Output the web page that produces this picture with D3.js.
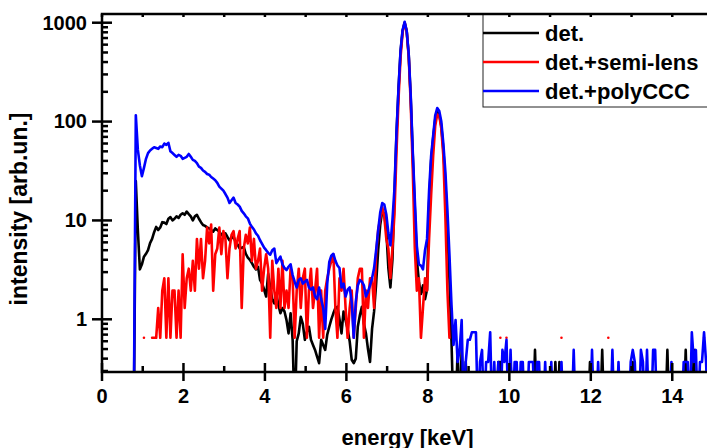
<!DOCTYPE html>
<html>

<head>
	<title>energy spectra</title>
	<meta charset="utf-8">
	<script src="https://cdn.jsdelivr.net/npm/d3@7"></script>
	<style>
		body {
			margin: 0;
			background: #fff;
		}

		text {
			font-family: "Liberation Sans", Arial, sans-serif;
			font-weight: bold;
			fill: #000;
		}

		.tick-label {
			font-size: 20px;
		}

		.x-title {
			font-size: 22px;
		}

		.y-title {
			font-size: 23px;
		}

		.legend text {
			font-size: 22px;
		}

		.spec {
			fill: none;
			stroke-width: 2.6px;
			stroke-linejoin: round;
			stroke-linecap: round;
		}

		.tick-mark {
			stroke: #000;
			stroke-width: 2.5px;
		}
	</style>
</head>

<body>

	<svg width="707" height="448"></svg>

	<script>
		// channel calibration of the spectra (keV)
		var channelStart = 0.78
		var channelWidth = 0.05

		var seriesNames = ["det.", "det.+semi-lens", "det.+polyCCC"]
		var seriesColors = ["#000000", "#ff0000", "#0000ff"]

		var xMajor = [0, 2, 4, 6, 8, 10, 12, 14]
		var xMinor = [1, 3, 5, 7, 9, 11, 13, 15]
		var yMajor = [1, 10, 100, 1000]

		// det.
		var det = [
			0, 25, 8, 3.2, 3.6, 4.3, 4.6, 5.0, 5.9, 6.5,
			7.6, 8.6, 8.0, 8.5, 9.6, 9.5, 9.2, 10.4, 10.8, 10.0,
			10.4, 11.0, 10.6, 11.4, 11.8, 11.4, 12.3, 11.6, 11.0, 10.0,
			11.0, 11.4, 10.4, 9.6, 9.0, 8.8, 8.5, 8.3, 8.0, 7.7,
			8.3, 8.0, 7.7, 7.2, 6.9, 7.4, 6.8, 6.3, 6.6, 6.9,
			6.0, 5.7, 5.2, 5.3, 5.4, 4.6, 4.2, 4.0, 3.7, 3.4,
			3.2, 3.4, 2.5, 2.3, 2.0, 1.7, 2.9, 2.1, 1.6, 1.45,
			1.8, 1.4, 1.15, 1.3, 1.2, 0.98, 0.72, 1.15, 0.62, 0,
			0.6, 0.72, 1.06, 0.9, 0.62, 0.75, 0.84, 0.62, 0.55, 0.49,
			0.42, 0.36, 0.62, 0.55, 0.49, 0.7, 0.84, 1.0, 1.15, 1.3,
			1.34, 1.0, 0.72, 1.2, 0.98, 0.8, 0.6, 0.39, 0.36, 0.4,
			0.84, 1.1, 1.34, 0.9, 0.72, 0.5, 0.37, 0.8, 1.2, 2.3,
			5, 9, 12.5, 11.5, 8, 3.3, 2.1, 4, 18, 75,
			215, 510, 830, 1000, 820, 470, 170, 45, 13, 4,
			2.4, 1.8, 2.2, 1.6, 2.0, 15, 40, 68, 105, 125,
			118, 90, 52, 24, 8, 2.5, 0.6, 0, 0, 0.49,
			0, 0.49, 0, 0.37, 0, 0, 0, 0, 0, 0,
			0, 0, 0, 0, 0, 0, 0, 0, 0, 0.37,
			0.37, 0, 0, 0, 0, 0.37, 0, 0, 0, 0,
			0, 0, 0, 0, 0, 0, 0, 0.49, 0, 0,
			0, 0, 0, 0, 0, 0, 0, 0.37, 0, 0.37,
			0, 0, 0, 0, 0, 0, 0, 0, 0, 0,
			0, 0, 0, 0, 0.37, 0, 0, 0, 0, 0,
			0.49, 0, 0, 0, 0, 0, 0, 0, 0, 0,
			0, 0, 0, 0, 0, 0.37, 0, 0, 0, 0,
			0, 0, 0, 0, 0, 0, 0, 0, 0, 0,
			0, 0, 0.49, 0, 0, 0, 0, 0, 0, 0,
			0, 0.49, 0, 0, 0, 0.49, 0, 0, 0, 0,
			0, 0, 0, 0, 0
		]

		// det.+semi-lens (null = no counts, gap in the line)
		var semiLens = [
			null, null, null, null, null, 0.65, null, null, null, 0.65,
			0.65, 0.65, 1.3, 0.65, 1.95, 2.6, 0.65, 2.6, 0.65, 1.95,
			1.95, 0.65, 1.95, 0.65, 4.55, 1.3, 2.6, 3.25, 1.95, 3.9,
			1.95, 6.5, 3.25, 6.5, 2.6, 3.9, 8.45, 5.85, 9.1, 1.95,
			4.55, 5.2, 8.45, 4.55, 7.8, 6.5, 2.6, 5.2, 7.15, 7.8,
			5.2, 6.5, 7.8, 1.3, 5.2, 7.15, 5.85, 8.45, 3.9, 6.5,
			3.25, 3.9, 5.2, 1.95, 3.25, 4.55, 3.25, 0.65, 3.9, 1.95,
			1.3, 3.25, 1.3, 3.9, 1.3, 1.95, 1.3, 3.25, 2.6, 0.65,
			1.95, 3.25, 1.3, 2.6, 3.25, 0.65, 1.95, 3.25, 1.3, 1.95,
			3.25, 0.65, 1.95, 0.65, 1.95, 2.6, 3.25, 3.9, 4.55, 1.3,
			0.65, 2.6, 1.95, 3.25, 1.3, 0.65, 1.3, 1.95, 0.65, 1.3,
			2.6, 3.25, 3.25, 0.65, 1.95, 1.3, 2.6, 2.6, 1.3, 4.55,
			8, 10.4, 13.6, 11, 6.5, 5.2, 2.6, 5.2, 11.7, 50,
			170, 450, 800, 1000, 820, 450, 150, 32, 5.2, 1.95,
			2.6, 0.65, 1.3, 2.6, 1.95, 6.5, 18, 45, 90, 118,
			115, 85, 45, 11, 1.95, 0.65, null, null, null, null,
			null, null, null, null, null, null, null, null, null, null,
			null, null, null, null, null, null, null, null, null, null,
			0.65, null, null, 0.65, null, null, null, null, null, null,
			null, null, null, null, null, null, null, null, null, null,
			null, null, null, null, null, null, null, null, null, null,
			0.65, null, null, null, null, null, null, null, null, null,
			null, null, null, null, null, null, null, null, null, null,
			null, null, null, 0.65, null, null, null, null, null, null,
			null, null, null, null, null, null, null, null, null, null,
			null, null, null, null, null, null, null, null, null, null,
			null, null, null, null, null, null, null, null, null, null,
			null, null, null, null, null, null, null, null, null, null,
			0.65, null, null, null, null
		]

		// det.+polyCCC
		var polyCCC = [
			0, 116, 52, 36, 28, 34, 42, 48, 51, 53,
			55, 54, 53, 56, 55, 60, 58, 61, 50, 48,
			46, 44, 46, 45, 42, 43, 44, 47, 44, 41,
			40, 38, 35, 34, 32, 31, 29.5, 29, 27.5, 26.5,
			25.5, 24, 22, 21, 20, 18.5, 17, 15, 16, 17,
			15, 14.5, 13.8, 12.5, 11.8, 11, 10.5, 9.3, 8.6, 8.1,
			7.4, 7.0, 6.3, 5.8, 5.3, 5.0, 4.7, 4.5, 5.0, 5.2,
			3.7, 4.0, 4.3, 3.6, 3.3, 3.15, 3.4, 3.6, 2.8, 2.4,
			2.1, 2.5, 2.6, 2.3, 2.4, 2.5, 2.1, 2.0, 2.1, 1.7,
			1.6, 2.1, 1.6, 1.3, 0.8, 2.3, 3.8, 4.4, 4.6, 3.9,
			3.5, 3.3, 2.1, 2.3, 1.7, 2.0, 2.1, 1.5, 0.65, 1.5,
			2.2, 2.5, 2.4, 2.2, 1.7, 1.9, 2.2, 2.6, 3.3, 5.0,
			8.0, 12, 15, 14.5, 11.5, 7.5, 5.6, 10, 21, 78,
			220, 525, 845, 1020, 830, 480, 180, 49, 16, 5.5,
			3.6, 3.5, 3.2, 5.0, 6.5, 20, 45, 72, 115, 137,
			128, 100, 60, 31, 12.7, 4.5, 1.4, 0.55, 0.98, 0.37,
			0.49, 0.98, 0, 0.37, 0.62, 0.62, 0.74, 0.74, 0.74, 0,
			0.37, 0.49, 0, 0.37, 0.37, 0.74, 0, 0.37, 0, 0.37,
			0, 0.49, 0.37, 0.62, 0, 0.49, 0, 0.37, 0.37, 0,
			0.37, 0.37, 0, 0, 0.37, 0.37, 0.37, 0, 0.37, 0.37,
			0, 0, 0.37, 0, 0, 0.37, 0, 0, 0, 0,
			0.37, 0, 0, 0, 0, 0, 0.49, 0, 0, 0,
			0, 0, 0, 0, 0, 0.49, 0, 0, 0.37, 0,
			0, 0, 0, 0, 0, 0.49, 0, 0, 0.37, 0,
			0, 0, 0, 0, 0.37, 0.49, 0.37, 0, 0, 0.49,
			0.37, 0, 0.49, 0, 0, 0.49, 0.49, 0, 0, 0,
			0, 0, 0, 0, 0.37, 0, 0, 0, 0, 0,
			0.37, 0.37, 0.37, 0, 0.74, 0.37, 0.49, 0, 0.37, 0.37,
			0.74, 0.37, 0, 0, 0
		]

		var series = [det, semiLens, polyCCC]

		var plotLeft = 102,
			plotRight = 713,
			plotTop = 14,
			plotBottom = 372

		var x = d3.scaleLinear()
			.domain([0, 15])
			.range([plotLeft, plotRight])

		var y = d3.scaleLog()
			.domain([0.293, 1225])
			.range([plotBottom, plotTop])

		var svg = d3.select('svg')

		svg.append('defs')
			.append('clipPath')
			.attr('id', 'plot-clip')
			.append('rect')
			.attr('x', plotLeft)
			.attr('y', plotTop)
			.attr('width', plotRight - plotLeft)
			.attr('height', plotBottom - plotTop)

		// spectra
		var line = d3.line()
			.defined(function(d) {
				return d.v !== null
			})
			.x(function(d) {
				return x(d.e)
			})
			.y(function(d) {
				// empty channels fall below the axis
				return y(Math.max(d.v, 0.1))
			})

		svg.append('g')
			.attr('clip-path', 'url(#plot-clip)')
			.selectAll('path.spec')
			.data(series)
			.enter()
			.append('path')
			.classed('spec', true)
			.attr('stroke', function(d, i) {
				return seriesColors[i]
			})
			.attr('d', function(d) {
				return line(d.map(function(v, i) {
					return {
						e: channelStart + channelWidth * i,
						v: v
					}
				}))
			})

		// legend
		var legend = svg.append('g').classed('legend', true)
		legend.append('rect')
			.attr('x', 483)
			.attr('y', plotTop)
			.attr('width', 260)
			.attr('height', 93)
			.attr('fill', '#fff')
			.attr('stroke', '#222')
			.attr('stroke-width', 1)

		var item = legend.selectAll('g.item')
			.data(seriesNames)
			.enter()
			.append('g')
			.classed('item', true)
			.attr('transform', function(d, i) {
				return 'translate(483,' + (33 + i * 29) + ')'
			})

		item.append('line')
			.attr('x1', 0)
			.attr('x2', 56)
			.attr('stroke', function(d, i) {
				return seriesColors[i]
			})
			.attr('stroke-width', 2.6)

		item.append('text')
			.attr('x', 62)
			.attr('y', 7.5)
			.text(function(d) {
				return d
			})

		// frame
		svg.append('path')
			.attr('d', 'M' + plotRight + ',' + plotTop + 'H' + plotLeft + 'V' + plotBottom + 'H' + plotRight)
			.attr('fill', 'none')
			.attr('stroke', '#000')
			.attr('stroke-width', 2.5)

		// ticks
		var yMinor = []
		;[0.1, 1, 10, 100, 1000].forEach(function(dec) {
			for (var k = 2; k <= 9; k++) {
				var v = dec * k
				if (v > 0.293 && v < 1225) yMinor.push(v)
			}
		})

		var tickGroup = svg.append('g')

		function xTicks(values, y1, y2) {
			tickGroup.selectAll(null)
				.data(values)
				.enter()
				.append('line')
				.classed('tick-mark', true)
				.attr('x1', function(d) { return x(d) })
				.attr('x2', function(d) { return x(d) })
				.attr('y1', y1)
				.attr('y2', y2)
		}

		function yTicks(values, x1, x2) {
			tickGroup.selectAll(null)
				.data(values)
				.enter()
				.append('line')
				.classed('tick-mark', true)
				.attr('y1', function(d) { return y(d) })
				.attr('y2', function(d) { return y(d) })
				.attr('x1', x1)
				.attr('x2', x2)
		}

		xTicks(xMajor, plotBottom - 9, plotBottom + 9)
		xTicks(xMinor, plotBottom - 6, plotBottom)
		xTicks(d3.range(0, 16), plotTop, plotTop + 3)
		yTicks(yMajor, plotLeft - 10, plotLeft + 10)
		yTicks(yMinor, plotLeft, plotLeft + 6)

		tickGroup.selectAll('text.x-lab')
			.data(xMajor)
			.enter()
			.append('text')
			.classed('tick-label', true)
			.attr('x', function(d) { return x(d) })
			.attr('y', 403)
			.attr('text-anchor', 'middle')
			.text(function(d) { return d })

		tickGroup.selectAll('text.y-lab')
			.data(yMajor)
			.enter()
			.append('text')
			.classed('tick-label', true)
			.attr('x', 87)
			.attr('y', function(d) { return y(d) })
			.attr('dy', '0.34em')
			.attr('text-anchor', 'end')
			.text(function(d) { return d })

		// titles
		svg.append('text')
			.classed('x-title', true)
			.attr('x', (plotLeft + plotRight) / 2)
			.attr('y', 445)
			.attr('text-anchor', 'middle')
			.text('energy [keV]')

		svg.append('text')
			.classed('y-title', true)
			.attr('transform', 'translate(27,209) rotate(-90)')
			.attr('text-anchor', 'middle')
			.text('intensity [arb.un.]')
	</script>
</body>

</html>
